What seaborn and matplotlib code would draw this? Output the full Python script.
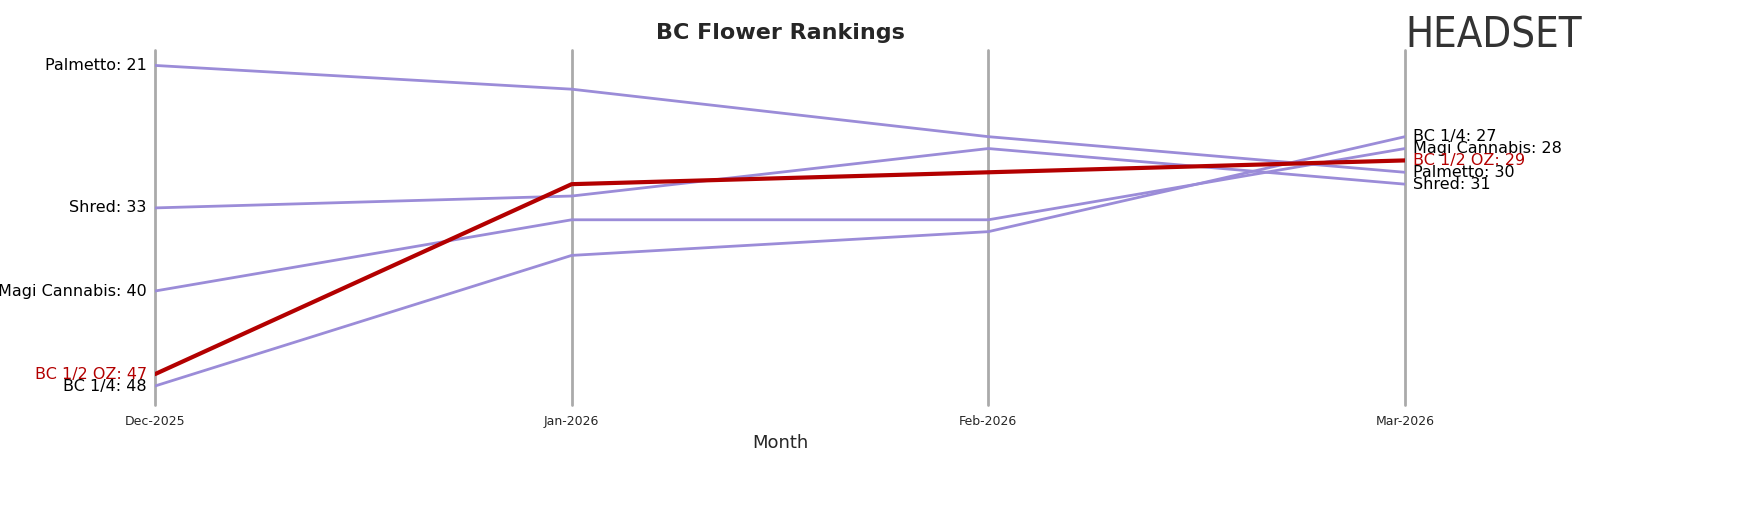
import matplotlib
matplotlib.use("Agg")
import matplotlib.pyplot as plt
import seaborn as sns
import pandas as pd

months = ["Dec-2025", "Jan-2026", "Feb-2026", "Mar-2026"]
brands = ["Palmetto", "Shred", "Magi Cannabis", "BC 1/4", "BC 1/2 OZ"]
palmetto = [21, 23, 27, 30]
shred = [33, 32, 28, 31]
magi = [40, 34, 34, 28]
bc_quarter = [48, 37, 35, 27]
bc_half = [47, 31, 30, 29]
series = [palmetto, shred, magi, bc_quarter, bc_half]
highlight = "BC 1/2 OZ"

rows = []
for b, vals in zip(brands, series):
    for i, v in enumerate(vals):
        rows.append({"brand": b, "x": i, "rank": v})
df = pd.DataFrame(rows)

sns.set_style("white")
fig = plt.figure(figsize=(17.51, 5.07), dpi=100)
ax = fig.add_axes([155/1751, 1-405/507, 1250/1751, 355/507])

for i in range(len(months)):
    ax.axvline(i, color="#aaaaaa", lw=2, zorder=0, clip_on=False)

palette = {b: ("#b30000" if b == highlight else "#9b8cd8") for b in brands}
for b in brands:
    d = df[df.brand == b]
    sns.lineplot(data=d, x="x", y="rank", ax=ax, color=palette[b],
                 lw=3 if b == highlight else 2, zorder=3 if b == highlight else 2,
                 legend=False)

ax.set_ylim(49.6, 19.7)
ax.set_xlim(0, 3)
ax.set_yticks([])
ax.set_xticks(range(len(months)))
ax.set_xticklabels(months, fontsize=9)
ax.tick_params(axis="x", length=4, color="#aaaaaa")
ax.set_xlabel("Month", fontsize=13)
ax.set_ylabel("")
for s in ax.spines.values():
    s.set_visible(False)

for b, vals in zip(brands, series):
    c = "#b30000" if b == highlight else "black"
    ax.text(-0.02, vals[0], f"{b}: {vals[0]}", ha="right", va="center", fontsize=11.5, color=c)
    ax.text(3.02, vals[-1], f"{b}: {vals[-1]}", ha="left", va="center", fontsize=11.5, color=c)

fig.text(780/1751, 1-33/507, "BC Flower Rankings", ha="center", va="center",
         fontsize=16, fontweight="bold")
fig.text(1405/1751, 1-35/507, "HEADSET", ha="left", va="center", fontsize=30,
         color="#333333", fontstretch="condensed")
fig.savefig("out.png", dpi=100)
